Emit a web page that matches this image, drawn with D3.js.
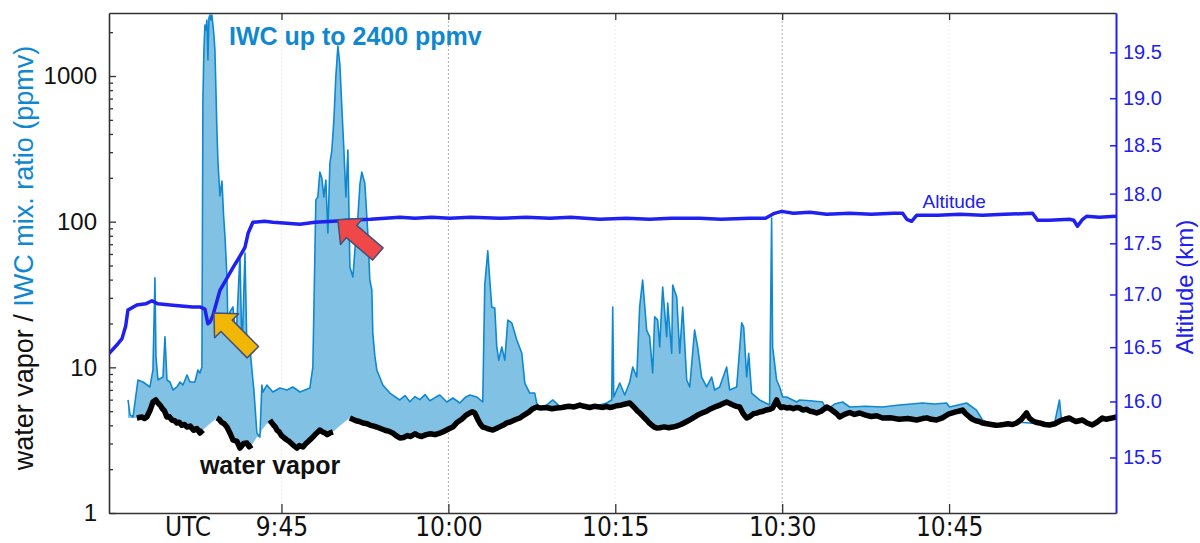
<!DOCTYPE html>
<html><head><meta charset="utf-8">
<script src="https://cdn.jsdelivr.net/npm/d3@7"></script>
<style>
html,body{margin:0;padding:0;background:#fff;}
svg{display:block;font-family:'Liberation Sans',Arial,sans-serif;}
</style></head><body>
<svg id="c" width="1200" height="543"></svg>
<script>
// ---------- data (time = minutes after 09:00 UTC) ----------
const timeTicks = [45, 60, 75, 90, 105];
const timeTickLabels = ["9:45", "10:00", "10:15", "10:30", "10:45"];
const leftTicks = [1, 10, 100, 1000];
const leftTickLabels = ["1", "10", "100", "1000"];
const rightTicks = [15.5, 16.0, 16.5, 17.0, 17.5, 18.0, 18.5, 19.0, 19.5];

// IWC (total water) mixing ratio, ppmv
const iwcSeries = [
[31.21,5.97],[31.39,4.71],[31.66,4.56],[32.10,8.18],[32.55,7.93],[33.18,7.33],[33.45,9.59],[33.63,41.1],[33.72,11.8],[33.90,8.18],
[34.35,8.58],[34.53,16.2],[34.71,8.18],[34.98,7.93],[35.25,6.99],[35.61,7.33],[35.88,7.93],[36.15,7.56],[36.51,8.86],[36.78,7.93],
[37.22,7.93],[37.49,9.59],[37.67,9.14],[37.85,10.05],[37.94,684],[38.03,1508],[38.12,2239],[38.21,2069],[38.30,2423],[38.39,1288],
[38.48,2500],[38.57,2622],[38.66,2423],[38.75,2622],[38.84,2239],[38.93,1900],[39.02,1500],[39.11,800],[39.20,420],[39.29,260],
[39.47,150],[39.65,190],[39.80,110],[39.92,80],[40.10,42],[40.19,18],[40.37,24],[40.64,26],[40.91,15],[41.27,59],[41.45,12.5],
[41.72,60.9],[41.90,12.5],[42.16,13.8],[42.43,8.18],[42.52,7.0],[42.79,3.54],[43.06,3.32],[43.24,7.56],[43.33,6.77],[43.69,7.56],
[44.23,6.77],[44.86,7.21],[45.49,6.99],[46.03,7.33],[46.66,6.77],[47.11,6.99],[47.55,7.21],[47.82,10.05],[48.09,141],[48.27,148],
[48.45,219],[48.63,199],[48.81,148],[48.99,193],[49.17,83.6],[49.35,250],[49.53,310],[49.71,500],[49.89,1000],[50.07,1607],
[50.25,1200],[50.43,600],[50.61,310],[50.79,148],[50.97,310],[51.15,48.8],[51.42,41.7],[51.60,63.9],[51.87,108],[52.05,180],
[52.22,219],[52.49,184],[52.76,83.6],[52.94,40],[53.12,34],[53.21,17.2],[53.39,12],[53.57,9.59],[54.11,7.56],[54.74,6.66],
[55.37,6.16],[55.64,5.97],[56.10,6.4],[56.54,5.8],[57.0,6.3],[57.43,6.0],[57.9,6.5],[58.33,5.9],[58.8,6.2],[59.23,6.46],
[59.86,5.78],[60.40,6.16],[61.03,5.69],[61.5,6.2],[61.93,6.46],[62.55,6.26],[63.09,5.78],[63.27,36.7],[63.54,63],[63.72,39.8],
[63.90,25.9],[64.17,25.5],[64.35,13.8],[64.53,11.2],[64.80,13.8],[65.07,11.2],[65.34,21.1],[65.70,20.2],[66.15,15.4],[66.60,12.5],
[66.87,7.8],[67.31,6.66],[67.76,6.66],[67.94,5.69],[68.21,5.26],[68.84,5.5],[69.38,5.97],[70.01,5.4],[70.64,5.51],[71.36,5.45],
[72.07,5.34],[72.88,5.4],[73.60,5.51],[74.23,5.69],[74.68,5.97],[74.77,25.9],[74.86,6.26],[75.40,7.8],[75.85,6.46],[76.30,7.93],
[76.57,10.05],[76.93,8.58],[77.19,25.9],[77.46,39.8],[77.82,18.0],[78.09,16.2],[78.36,9.14],[78.54,22.2],[78.81,21.1],[78.99,13.8],
[79.26,35.6],[79.62,16.2],[79.71,27.6],[80.07,12.5],[80.16,36.7],[80.52,30.4],[80.79,12.5],[81.06,25.9],[81.42,8.18],[81.69,7.33],
[82.13,18.0],[82.40,13.8],[82.76,8.58],[83.21,7.33],[83.66,8.58],[83.93,6.99],[84.38,7.33],[85.01,10.05],[85.28,6.99],[85.91,7.33],
[86.36,20.2],[86.54,18.9],[86.81,8.58],[86.99,12.5],[87.25,6.66],[87.97,5.97],[88.87,5.51],[89.05,106],[89.14,13.8],[89.50,8.18],
[89.77,7.33],[90.04,6.26],[90.40,6.26],[91.30,5.78],[91.57,5.97],[92.5,5.9],[93.63,5.78],[93.99,5.09],[94.7,5.6],[95.43,5.78],
[96.06,5.34],[97.5,5.4],[99.02,5.34],[100.55,5.51],[101.6,5.6],[102.61,5.69],[103.7,5.6],[104.77,5.69],[105.04,5.34],[106.57,5.69],
[107.46,5.09],[108.0,4.35],[108.63,4.1],[109.53,4.05],[111.33,4.2],[113.12,4.1],[114.47,4.1],[114.92,5.97],[115.1,4.3],[116.27,4.3],
[117.6,4.1],[120.04,4.5]
];

// water vapour mixing ratio, ppmv (null = data gap)
const vaporSeries = [
[32.0,4.49],[32.45,4.56],[32.7,4.45],[32.9,4.56],[33.2,5.09],[33.45,5.78],[33.7,5.97],[33.9,5.69],[34.1,5.5],[34.3,5.2],[34.5,5.0],[34.7,4.56],[34.9,4.6],[35.15,4.35],
[35.4,4.3],[35.6,4.15],[35.8,4.2],[36.05,4.0],[36.3,4.05],[36.5,3.89],[36.8,3.95],[37.1,3.7],[37.4,3.8],[37.67,3.54],[37.94,3.71],[38.4,null],
[39.2,4.49],[39.4,4.4],[39.6,4.2],[39.85,4.1],[40.1,3.89],[40.4,3.5],[40.64,3.17],[41.0,3.1],[41.27,2.79],[41.6,3.0],[41.9,3.02],[42.1,2.85],[42.35,2.93],[43.0,null],
[43.96,4.35],[44.1,4.2],[44.3,4.0],[44.45,3.9],[44.59,3.71],[44.8,3.6],[45.0,3.4],[45.2,3.3],[45.49,3.17],[45.7,3.1],[45.9,3.0],[46.1,2.9],[46.39,2.79],[46.6,2.9],[46.93,2.84],[47.2,3.0],[47.4,3.1],[47.6,3.2],[47.82,3.32],
[48.1,3.5],[48.45,3.71],[48.7,3.6],[48.9,3.55],[49.1,3.45],[49.35,3.54],[49.62,3.6],[50.3,null],
[51.15,4.49],[51.4,4.4],[51.7,4.3],[52.0,4.25],[52.32,4.15],[52.7,4.1],[53.0,4.0],[53.3,3.95],[53.57,3.89],[53.9,3.8],[54.3,3.7],[54.6,3.65],[55.0,3.54],[55.3,3.4],[55.64,3.27],[56.0,3.3],[56.3,3.4],[56.6,3.35],[57.0,3.5],
[57.3,3.4],[57.6,3.35],[58.0,3.45],[58.4,3.5],[58.8,3.45],[59.23,3.54],[59.5,3.6],[59.8,3.7],[60.1,3.8],[60.4,3.89],[60.8,4.2],[61.2,4.4],[61.6,4.7],[61.93,4.86],[62.15,4.95],[62.37,4.86],[62.7,4.3],[62.9,4.05],[63.09,3.89],
[63.3,3.85],[63.5,3.8],[63.75,3.75],[63.99,3.71],[64.3,3.8],[64.6,3.9],[64.9,4.0],[65.25,4.15],[65.5,4.2],[65.8,4.3],[66.1,4.4],[66.42,4.49],[66.8,4.7],[67.2,4.9],[67.6,5.2],[67.94,5.34],[68.3,5.25],[68.8,5.3],[69.3,5.2],[69.74,5.26],
[70.2,5.3],[70.8,5.4],[71.3,5.35],[71.81,5.51],[72.2,5.4],[72.7,5.3],[73.1,5.4],[73.6,5.34],[73.9,5.3],[74.2,5.4],[74.5,5.3],[74.77,5.34],[75.1,5.45],[75.5,5.5],[75.9,5.6],[76.3,5.69],[76.55,5.45],[76.8,5.2],[77.0,5.0],[77.2,4.86],
[77.5,4.6],[77.82,4.35],[78.05,4.15],[78.3,4.0],[78.5,3.9],[78.72,3.83],[79.0,3.85],[79.4,3.9],[79.8,3.85],[80.16,3.89],[80.5,3.95],[80.9,4.05],[81.3,4.2],[81.68,4.35],[82.0,4.5],[82.4,4.7],[82.8,4.85],[83.21,5.0],[83.6,5.2],[84.1,5.4],
[84.5,5.55],[85.01,5.78],[85.3,5.65],[85.6,5.5],[85.9,5.4],[86.18,5.34],[86.5,4.8],[86.81,4.49],[87.1,4.6],[87.4,4.8],[87.7,4.85],[87.97,4.94],[88.3,5.0],[88.6,5.1],[88.9,5.15],[89.14,5.26],[89.5,5.97],[89.7,5.5],[89.9,5.3],
[90.1,5.35],[90.4,5.26],[90.7,5.3],[91.0,5.2],[91.3,5.3],[91.57,5.26],[91.84,5.09],[92.2,5.15],[92.5,5.0],[92.8,4.95],[93.1,4.86],[93.5,5.0],[94.0,5.34],[94.3,5.2],[94.6,5.0],[94.9,4.8],[95.16,4.56],[95.6,4.75],[96.06,4.9],
[96.5,4.75],[96.96,4.86],[97.5,4.7],[98.0,4.6],[98.5,4.65],[99.02,4.49],[99.8,4.5],[100.5,4.4],[101.3,4.45],[102.08,4.35],[102.6,4.45],[103.0,4.5],[103.4,4.4],[103.87,4.35],[104.4,4.5],[105.0,4.8],[105.6,4.95],[106.21,5.09],[106.5,4.8],[106.84,4.56],
[107.1,4.4],[107.4,4.3],[107.7,4.25],[108.0,4.15],[108.4,4.1],[108.8,4.05],[109.2,4.0],[109.53,4.02],[109.9,4.05],[110.3,4.1],[110.7,4.05],[111.06,4.15],[111.5,4.4],[111.96,4.86],[112.2,4.5],[112.5,4.3],[112.8,4.2],[113.12,4.15],[113.6,4.05],[114.02,4.02],
[114.5,4.1],[115.0,4.3],[115.4,4.4],[115.82,4.49],[116.1,4.35],[116.4,4.25],[116.7,4.3],[116.99,4.35],[117.4,4.15],[117.88,4.02],[118.3,4.2],[118.78,4.49],[119.1,4.4],[119.4,4.45],[119.7,4.5],[120.04,4.56]
];

// flight altitude, km
const altSeries = [
[29.5,16.44],[30.2,16.52],[30.67,16.58],[31.0,16.70],[31.2,16.85],[32.0,16.90],[32.8,16.91],[33.36,16.94],[33.9,16.91],[35,16.90],
[36,16.89],[37,16.88],[37.67,16.88],[38.12,16.86],[38.39,16.72],[38.6,16.74],[38.84,16.80],[39.47,17.04],[40.0,17.14],[40.64,17.26],
[41.2,17.36],[41.72,17.46],[42.0,17.6],[42.43,17.71],[43.5,17.72],[44.23,17.71],[45.5,17.70],[46.66,17.69],[48,17.71],[49.62,17.72],
[51,17.73],[53,17.74],[55.64,17.76],[57,17.75],[58.5,17.76],[60.13,17.75],[62,17.76],[64.62,17.75],[67,17.76],[69.11,17.75],
[71,17.76],[73.6,17.74],[76,17.75],[78.09,17.74],[80,17.75],[82.58,17.75],[84.5,17.74],[87.08,17.75],[88.5,17.75],[89.3,17.80],
[89.95,17.82],[91,17.80],[92.5,17.81],[94,17.79],[96.06,17.80],[98,17.79],[100,17.80],[100.82,17.80],[101.2,17.74],[101.63,17.72],
[102.08,17.78],[104,17.78],[106,17.79],[108,17.78],[110,17.79],[112.5,17.80],[112.95,17.73],[114,17.73],[115.82,17.74],[116.2,17.73],
[116.54,17.67],[117.0,17.74],[117.35,17.77],[118.5,17.76],[120.0,17.77]
];

// annotation arrows (tip / tail in data coordinates)
const arrowTips = [[38.93, 23.6], [50.07, 103]];
const arrowTails = [[42.43, 12.7], [53.66, 60]];
const arrowFills = ["#f2b705", "#f04848"];

// ---------- drawing ----------
const svg = d3.select("#c");
const L = 109, R = 1116, T = 13, B = 513;
const x = d3.scaleLinear().domain([29.5, 120]).range([L, R]);
const y = d3.scaleLog().domain([1, 2707]).range([B, T]);
const yA = d3.scaleLog().domain([15.02, 19.94]).range([B, T]);

const IWC_LINE = "#0f88cf", IWC_FILL = "#80c1e4", ALT = "#2020f0";

// light grid
const grid = svg.append("g");
grid.selectAll("line").data(timeTicks).join("line")
  .attr("x1", d => x(d)).attr("x2", d => x(d)).attr("y1", T).attr("y2", B)
  .attr("stroke", (d, i) => (i % 2 === 1) ? "#b0b0b0" : "#ececec")
  .attr("stroke-width", 1).attr("stroke-dasharray", "2,2");

// vapor interpolation for area baseline
const vapValid = vaporSeries.filter(d => d[1] !== null);
function vapAt(t) {
  if (t <= vapValid[0][0]) return vapValid[0][1];
  for (let i = 1; i < vapValid.length; i++) {
    if (t <= vapValid[i][0]) {
      const a = vapValid[i - 1], b = vapValid[i];
      return a[1] + (b[1] - a[1]) * (t - a[0]) / (b[0] - a[0]);
    }
  }
  return vapValid[vapValid.length - 1][1];
}

svg.append("clipPath").attr("id", "pc").append("rect")
  .attr("x", L).attr("y", T).attr("width", R - L).attr("height", B - T);
const plot = svg.append("g").attr("clip-path", "url(#pc)");

plot.append("path").datum(iwcSeries)
  .attr("fill", IWC_FILL)
  .attr("d", d3.area().x(d => x(d[0])).y1(d => y(d[1])).y0(d => y(Math.min(d[1], vapAt(d[0])))));
plot.append("path").datum(iwcSeries)
  .attr("fill", "none").attr("stroke", IWC_LINE).attr("stroke-width", 1.6).attr("stroke-linejoin", "round")
  .attr("d", d3.line().x(d => x(d[0])).y(d => y(d[1])));
plot.append("path").datum(vaporSeries)
  .attr("fill", "none").attr("stroke", "#000").attr("stroke-width", 5.5).attr("stroke-linejoin", "round")
  .attr("d", d3.line().defined(d => d[1] !== null).x(d => x(d[0])).y(d => y(d[1])));
plot.append("path").datum(altSeries)
  .attr("fill", "none").attr("stroke", ALT).attr("stroke-width", 3.5).attr("stroke-linejoin", "round")
  .attr("d", d3.line().x(d => x(d[0])).y(d => yA(d[1])));

// arrows
function arrowPts(tip, tail, hl, hh, sh) {
  const dx = tip[0] - tail[0], dy = tip[1] - tail[1], len = Math.hypot(dx, dy);
  const ux = dx / len, uy = dy / len, px = -uy, py = ux;
  const bx = tip[0] - ux * hl, by = tip[1] - uy * hl;
  return [[tail[0] + px * sh, tail[1] + py * sh], [bx + px * sh, by + py * sh], [bx + px * hh, by + py * hh], tip,
          [bx - px * hh, by - py * hh], [bx - px * sh, by - py * sh], [tail[0] - px * sh, tail[1] - py * sh]];
}
arrowTips.forEach((tp, i) => {
  const tip = [x(tp[0]), y(tp[1])], tail = [x(arrowTails[i][0]), y(arrowTails[i][1])];
  svg.append("polygon").attr("points", arrowPts(tip, tail, 18, 17, 8).map(p => p.join(",")).join(" "))
    .attr("fill", arrowFills[i]).attr("stroke", "#45507a").attr("stroke-width", 1.5).attr("stroke-linejoin", "round");
});

// axes
const axL = svg.append("g").attr("transform", `translate(${L},0)`)
  .call(d3.axisLeft(y).tickValues(leftTicks).tickFormat((d, i) => leftTickLabels[i]).tickSizeInner(-7).tickSizeOuter(0).tickPadding(12));
const minors = [];
[1, 10, 100, 1000].forEach(p => { for (let k = 2; k <= 9; k++) if (p * k < 2707) minors.push(p * k); });
const axLm = svg.append("g").attr("transform", `translate(${L},0)`)
  .call(d3.axisLeft(y).tickValues(minors).tickFormat("").tickSizeInner(-4).tickSizeOuter(0));
axLm.select(".domain").remove();
[axL, axLm].forEach(g => { g.selectAll("line").attr("stroke", "#333").attr("stroke-width", 1.3); });
axL.select(".domain").attr("stroke", "#333").attr("stroke-width", 1.6);
axL.selectAll("text").attr("font-size", 24).attr("fill", "#111");

const NARROW = "'Liberation Sans Narrow','Arial Narrow','DejaVu Sans Condensed',sans-serif";
const axB = svg.append("g").attr("transform", `translate(0,${B})`)
  .call(d3.axisBottom(x).tickValues(timeTicks).tickFormat((d, i) => timeTickLabels[i]).tickSizeInner(-9).tickSizeOuter(0).tickPadding(5));
axB.select(".domain").attr("stroke", "#333").attr("stroke-width", 1.6);
axB.selectAll("line").attr("stroke", "#333").attr("stroke-width", 1.3);
axB.selectAll("text").attr("font-size", 26).attr("fill", "#111")
  .style("font-family", NARROW).style("font-stretch", "condensed");
svg.append("text").attr("x", x(36.6)).attr("y", B + 5).attr("dy", "0.71em").attr("text-anchor", "middle")
  .attr("font-size", 26).attr("fill", "#111")
  .style("font-family", NARROW).style("font-stretch", "condensed")
  .text("UTC");

const axT = svg.append("g").attr("transform", `translate(0,${T})`)
  .call(d3.axisTop(x).tickValues(timeTicks).tickFormat("").tickSizeInner(-7).tickSizeOuter(0));
axT.select(".domain").attr("stroke", "#333").attr("stroke-width", 1.6);
axT.selectAll("line").attr("stroke", "#333").attr("stroke-width", 1.3);

const axR = svg.append("g").attr("transform", `translate(${R},0)`)
  .call(d3.axisRight(yA).tickValues(rightTicks).tickFormat(d3.format(".1f")).tickSizeInner(-6).tickSizeOuter(0).tickPadding(7));
axR.select(".domain").attr("stroke", ALT).attr("stroke-width", 2);
axR.selectAll("line").attr("stroke", ALT).attr("stroke-width", 1.5);
axR.selectAll("text").attr("font-size", 20).attr("fill", ALT);

// axis titles
const lt = svg.append("text").attr("transform", "translate(33,258) rotate(-90)").attr("text-anchor", "middle")
  .attr("font-size", 27);
lt.append("tspan").attr("fill", "#111").text("water vapor / ");
lt.append("tspan").attr("fill", IWC_LINE).text("IWC mix. ratio (ppmv)");
svg.append("text").attr("transform", "translate(1193,287) rotate(-90)").attr("text-anchor", "middle")
  .attr("font-size", 24).attr("fill", ALT).text("Altitude (km)");

// in-plot labels
svg.append("text").attr("x", x(40.28)).attr("y", y(1632)).attr("font-size", 25).attr("font-weight", "bold")
  .attr("fill", IWC_LINE).text("IWC up to 2400 ppmv");
svg.append("text").attr("x", x(37.67)).attr("y", y(1.853)).attr("font-size", 25).attr("font-weight", "bold")
  .attr("fill", "#111").text("water vapor");
svg.append("text").attr("x", x(102.61)).attr("y", yA(17.85)).attr("font-size", 19)
  .attr("fill", ALT).text("Altitude");
</script>
</body></html>
